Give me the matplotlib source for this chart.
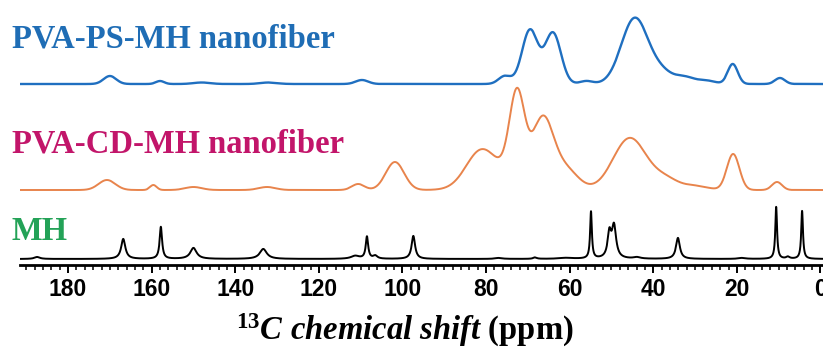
import numpy as np
import matplotlib
matplotlib.use("Agg")
import matplotlib.pyplot as plt
from matplotlib.ticker import MultipleLocator

# peak tables: centre (ppm), height (px above baseline), width (ppm)
ps_centre = [170.0, 158.0, 148.0, 132.0, 109.7, 75.5, 69.5, 64.0, 56.0, 44.4, 38.0, 32.5, 27.0, 21.0, 9.7]
ps_height = [8, 3, 1.5, 1.5, 4, 8, 54, 51, 3, 66, 10, 7, 3, 20, 6]
ps_width = [1.5, 1.0, 2.0, 2.0, 1.5, 1.5, 1.9, 1.9, 1.5, 3.2, 2.5, 2.5, 2.0, 1.2, 1.2]

cd_centre = [170.7, 159.6, 150.0, 132.4, 110.6, 101.8, 81.4, 75.0, 72.6, 66.4, 61.0, 45.6, 37.0, 30.0, 20.9, 10.4]
cd_height = [10, 5, 3, 3, 6, 28, 32, 15, 84, 65, 20, 52, 10, 4, 36, 8]
cd_width = [2.0, 0.8, 2.0, 2.0, 1.5, 2.2, 3.5, 6.0, 1.8, 2.5, 3.0, 4.0, 3.0, 3.0, 1.5, 1.2]

mh_centre = [187.4, 166.8, 157.8, 150.0, 133.3, 111.3, 108.5, 106.5, 97.4, 77.0, 68.3, 60.9,
             54.9, 50.5, 49.4, 43.9, 34.1, 18.8, 10.6, 7.8, 4.4]
mh_height = [2, 20, 32, 11, 10, 3, 22, 3, 23, 1, 1.5, 1, 47, 24, 32, 1.5, 21, 1, 52, 2, 48]
mh_width = [0.8, 0.6, 0.35, 0.9, 1.0, 1.2, 0.35, 0.6, 0.5, 1.0, 0.5, 2.0,
            0.25, 0.5, 0.6, 1.0, 0.55, 1.0, 0.25, 0.5, 0.25]

labels = ["PVA-PS-MH nanofiber", "PVA-CD-MH nanofiber", "MH"]
tick_values = [180, 160, 140, 120, 100, 80, 60, 40, 20, 0]

ppm = np.arange(-1.0, 192.0, 0.02)


def gauss_sum(c, h, w):
    y = np.zeros_like(ppm)
    for ci, hi, wi in zip(c, h, w):
        y += hi * np.exp(-(ppm - ci) ** 2 / (2 * wi ** 2))
    return y


def lorentz_sum(c, h, w):
    y = np.zeros_like(ppm)
    for ci, hi, wi in zip(c, h, w):
        y += hi / (1 + ((ppm - ci) / wi) ** 2)
    return y


plt.rcParams["mathtext.fontset"] = "custom"
plt.rcParams["mathtext.rm"] = "Liberation Serif:bold"
plt.rcParams["mathtext.it"] = "Liberation Serif:italic:bold"
plt.rcParams["mathtext.default"] = "it"

W, H = 823, 354
fig = plt.figure(figsize=(W / 100, H / 100), dpi=100)
ax = fig.add_axes([20 / W, 1 - 265 / H, 803 / W, 265 / H])

ax.plot(ppm, 181 + gauss_sum(ps_centre, ps_height, ps_width), color="#1f6fc0", lw=1.7)
ax.plot(ppm, 75 + gauss_sum(cd_centre, cd_height, cd_width), color="#e8844c", lw=1.4)
ax.plot(ppm, 6 + lorentz_sum(mh_centre, mh_height, mh_width), color="black", lw=1.4)

ax.set_xlim(191.5, -0.6)
ax.set_ylim(0, 265)
for s in ["top", "left", "right"]:
    ax.spines[s].set_visible(False)
ax.spines["bottom"].set_linewidth(2)
ax.set_yticks([])
ax.set_xticks(tick_values)
ax.xaxis.set_minor_locator(MultipleLocator(2))
ax.tick_params(axis="x", which="major", length=6, width=1.4, pad=3, labelsize=16.5)
ax.tick_params(axis="x", which="minor", length=3.5, width=1.1)
for t in ax.get_xticklabels():
    t.set_fontfamily("Liberation Sans")
    t.set_fontweight("bold")

lab_kw = dict(family="Liberation Serif", weight="bold", fontsize=23.5, va="baseline", ha="left")
fig.text(12 / W, 1 - 48 / H, labels[0], color="#1f6db5", **lab_kw)
fig.text(12 / W, 1 - 153 / H, labels[1], color="#c2156a", **lab_kw)
fig.text(12 / W, 1 - 240 / H, labels[2], color="#23a257", **lab_kw)

fig.text(405 / W, 1 - 340 / H, r"$^{13}C\ chemical\ shift$ (ppm)", family="Liberation Serif",
         weight="bold", fontsize=23.5, ha="center", va="baseline")

fig.savefig("out.png", dpi=100)
